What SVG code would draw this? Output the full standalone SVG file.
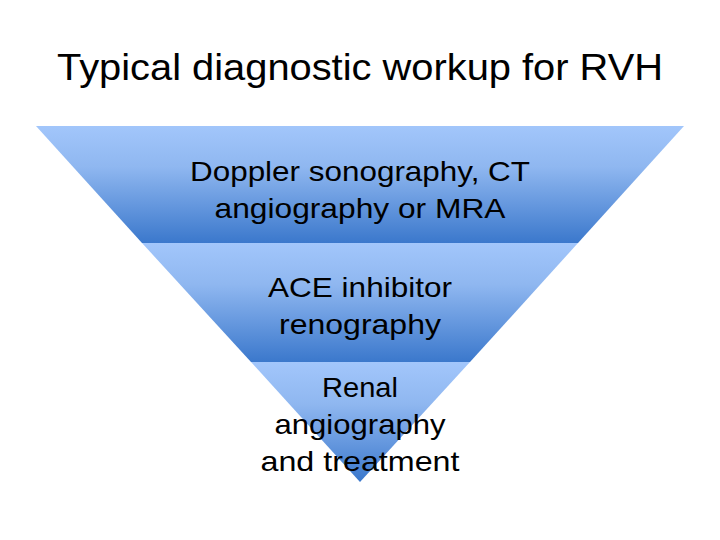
<svg xmlns="http://www.w3.org/2000/svg" width="720" height="540" viewBox="0 0 720 540">
  <defs>
    <linearGradient id="bandGrad" x1="0" y1="0" x2="0" y2="1">
      <stop offset="0" stop-color="#a2c6fb"/>
      <stop offset="0.35" stop-color="#8fb7f0"/>
      <stop offset="1" stop-color="#3b78cc"/>
    </linearGradient>
    <style>
      .band { fill: url(#bandGrad); }
      .lbl { font-family: "Liberation Sans", Arial, sans-serif; font-size: 28px; fill: #000; text-anchor: middle; }
      .title { font-family: "Liberation Sans", Arial, sans-serif; font-size: 37px; fill: #000; text-anchor: middle; }
    </style>
  </defs>
  <rect width="720" height="540" fill="#ffffff"/>
  <text class="title" x="360" y="80" textLength="606" lengthAdjust="spacingAndGlyphs">Typical diagnostic workup for RVH</text>
  <g id="band1">
    <polygon class="band" points="36,126 684,126 578,243 142,243"/>
    <text class="lbl" x="360" y="181" textLength="340" lengthAdjust="spacingAndGlyphs">Doppler sonography, CT</text>
    <text class="lbl" x="360" y="218" textLength="291" lengthAdjust="spacingAndGlyphs">angiography or MRA</text>
  </g>
  <g id="band2">
    <polygon class="band" points="142,243 578,243 470,362 251,362"/>
    <text class="lbl" x="360" y="297" textLength="184" lengthAdjust="spacingAndGlyphs">ACE inhibitor</text>
    <text class="lbl" x="360" y="334" textLength="162" lengthAdjust="spacingAndGlyphs">renography</text>
  </g>
  <g id="band3">
    <polygon class="band" points="251,362 470,362 360,482"/>
    <text class="lbl" x="360" y="397" textLength="76" lengthAdjust="spacingAndGlyphs">Renal</text>
    <text class="lbl" x="360" y="434" textLength="171" lengthAdjust="spacingAndGlyphs">angiography</text>
    <text class="lbl" x="360" y="471" textLength="199" lengthAdjust="spacingAndGlyphs">and treatment</text>
  </g>
  <g id="connectors"></g>
</svg>
